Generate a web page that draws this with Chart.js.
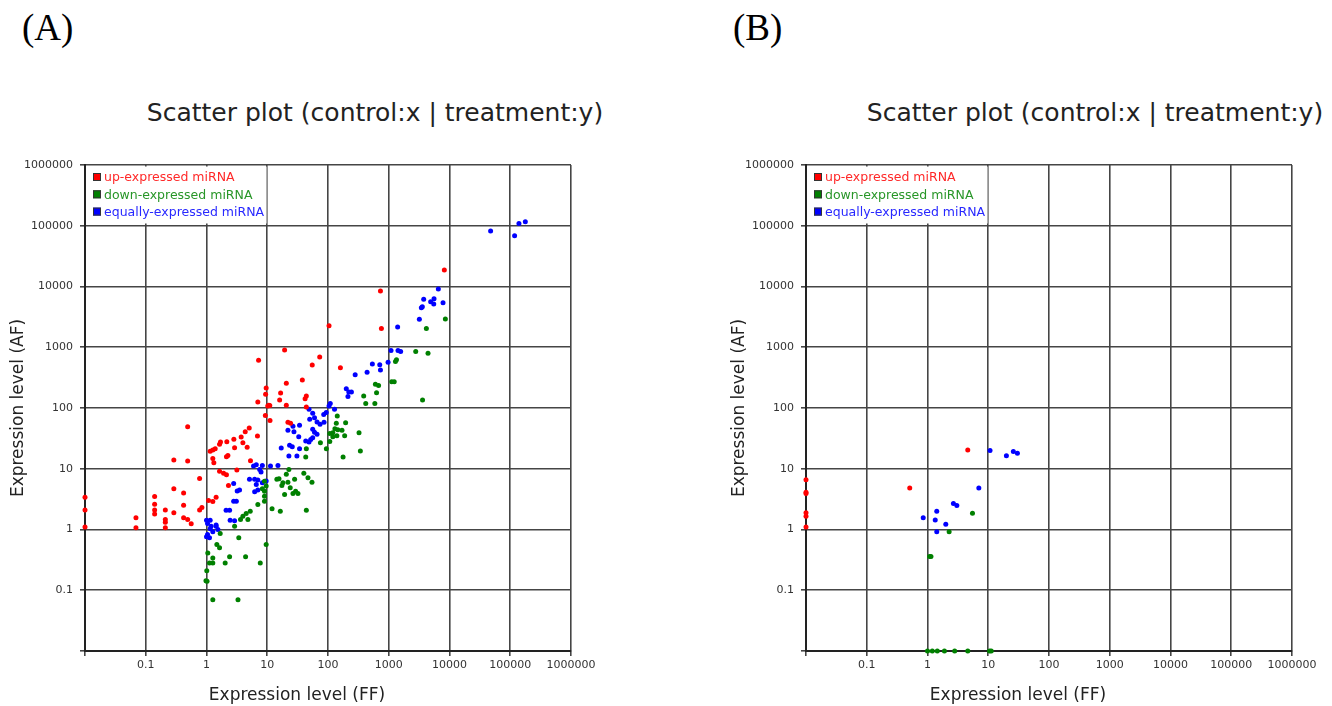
<!DOCTYPE html>
<html>
<head>
<meta charset="utf-8">
<script src="https://cdn.jsdelivr.net/npm/chart.js@4.4.0/dist/chart.umd.min.js"></script>
<style>
body { margin: 0; background: #fff; }
#wrap { position: relative; width: 1332px; height: 706px; overflow: hidden; }
canvas { position: absolute; top: 0; }
.panel { position: absolute; top: 8px; font-family: "Liberation Serif", serif; font-size: 37px; line-height: 40px; color: #000; }
.title { position: absolute; top: 99px; width: 600px; text-align: center; white-space: nowrap;
         font-family: "DejaVu Sans", sans-serif; font-size: 25px; line-height: 28px; color: #222; }
.xtitle { position: absolute; top: 684px; width: 300px; text-align: center; white-space: nowrap;
          font-family: "DejaVu Sans", sans-serif; font-size: 17px; line-height: 20px; color: #222; }
</style>
</head>
<body>
<div id="wrap">
  <div class="panel" style="left:22px">(A)</div>
  <div class="panel" style="left:733px">(B)</div>
  <div class="title" style="left:75px">Scatter plot (control:x | treatment:y)</div>
  <div class="title" style="left:795px">Scatter plot (control:x | treatment:y)</div>
  <canvas id="chartA" width="660" height="706" style="left:0"></canvas>
  <canvas id="chartB" width="611" height="706" style="left:721px"></canvas>
  <div class="xtitle" style="left:147px">Expression level (FF)</div>
  <div class="xtitle" style="left:868px">Expression level (FF)</div>
</div>
<script>
// decade ticks for both axes (0.01 is the unlabelled corner)
var decades = [0.01, 0.1, 1, 10, 100, 1000, 10000, 100000, 1000000];

var seriesNames = ['up-expressed miRNA', 'down-expressed miRNA', 'equally-expressed miRNA'];
var seriesColors = ['rgb(255, 0, 0)', 'rgb(0, 128, 0)', 'rgb(0, 0, 255)'];
var legendColors = ['rgb(255, 40, 40)', 'rgb(40, 150, 40)', 'rgb(40, 40, 255)'];

// panel A  [FF, AF]
var upA = [
  [104, 2250], [19.3, 900], [7.2, 610], [73, 690], [55, 510], [160, 460], [37.8, 290], [20.6, 255],
  [9.6, 214], [9.4, 168], [16.6, 177], [44, 158], [42, 142], [16, 135], [7.0, 126], [10.6, 111],
  [10.2, 108], [11, 110], [20.6, 111], [44, 104], [9.3, 75], [11.1, 62], [21.9, 58.5], [24.2, 56],
  [0.49, 49], [5.05, 46.8], [4.34, 40.7], [3.72, 33.3], [6.9, 34.5], [3.97, 26.8], [4.67, 22.5],
  [2.82, 30.5], [2.16, 27.9], [1.70, 27.5], [1.64, 25.2], [2.9, 22.2], [1.39, 21.3], [1.15, 19.5],
  [1.27, 20.3], [2.25, 16.6], [2.13, 15.8], [1.27, 14.8], [1.32, 12.6], [0.29, 13.9], [0.49, 13.4],
  [5.3, 13.5], [3.16, 9.5], [1.64, 9.1], [1.91, 8.4], [2.13, 8.0], [0.77, 6.9], [2.3, 5.3],
  [0.29, 4.7], [0.42, 4.0], [0.14, 3.5], [1.08, 3.0], [1.27, 2.9], [1.44, 3.4], [0.84, 2.3],
  [0.77, 2.1], [0.42, 2.5], [0.14, 2.6], [0.14, 2.1], [0.14, 1.8], [0.21, 2.1], [0.21, 1.46],
  [0.21, 1.32], [0.21, 1.07], [0.29, 1.88], [0.42, 1.56], [0.49, 1.46], [0.56, 1.24], [0.069, 1.56],
  [0.069, 1.07], [0.01, 3.4], [0.01, 2.1], [0.01, 1.1], [730, 8440], [757, 2030], [8220, 18700]
];
var downA = [
  [20.6, 8.1], [15.6, 6.85], [14.4, 6.7], [18.1, 5.9], [21.9, 6.0], [28.2, 6.7], [23.9, 4.86],
  [29.3, 4.28], [26.5, 3.9], [32, 3.9], [17.4, 5.3], [19.3, 3.78], [40, 8.4], [46.8, 7.1], [54.5, 6.0],
  [22.7, 9.75], [9.0, 6.25], [9.6, 5.18], [8.3, 4.68], [9.0, 4.28], [9.0, 3.54], [9.0, 2.93],
  [7.0, 2.58], [12.0, 2.19], [16.4, 2.0], [44, 2.08], [5.25, 2.0], [4.5, 1.84], [3.97, 1.66],
  [3.63, 1.46], [2.9, 1.13], [4.8, 1.46], [9.6, 0.566], [3.4, 0.73], [1.68, 0.86], [1.48, 0.566],
  [1.64, 0.50], [1.05, 0.41], [1.27, 0.34], [1.12, 0.28], [1.27, 0.28], [1.01, 0.21], [1.02, 0.14],
  [0.98, 0.144], [2.4, 0.355], [4.4, 0.355], [2.03, 0.28], [7.67, 0.28], [1.27, 0.07], [3.3, 0.07],
  [142, 74], [195, 57], [137, 56], [107, 38], [120, 39], [145, 44], [130, 45.7], [170, 43],
  [188, 35], [140, 35], [120, 33.5], [324, 39], [341, 19.6], [177, 15.6], [75, 26.8], [107, 28.1],
  [94, 21.3], [44, 21.3], [43, 15.6], [603, 245], [680, 235], [387, 158], [418, 119], [590, 119],
  [630, 179], [1120, 270], [1230, 270], [8550, 2920], [4160, 2030], [2780, 850], [4430, 796],
  [1340, 620], [1290, 580], [3600, 135]
];
var equalA = [
  [200, 208], [220, 184], [243, 184], [213, 154], [109, 119], [104, 108], [93.5, 84], [85, 78],
  [128, 95.6], [74, 54], [86, 58.5], [48.7, 95], [56, 82], [60, 69], [66, 59], [50, 65], [56, 44.6],
  [60, 40], [66, 36.8], [52, 30.4], [43, 28.5], [48.7, 27.5], [56, 32.5], [34, 52], [26.5, 50],
  [21.9, 43], [27.5, 40.7], [33, 33.7], [23.3, 24.3], [25.8, 23], [34, 21.4], [17, 22], [22.7, 16.2],
  [30.8, 16.2], [11.3, 11.1], [15, 11.3], [8.3, 11.3], [6.6, 11.6], [7.5, 9.7], [5.95, 11.1],
  [7.9, 8.8], [5.1, 6.7], [6.2, 6.7], [7.0, 6.5], [9.6, 6.3], [6.6, 5.5], [8.3, 5.9], [7.0, 4.45],
  [6.2, 4.2], [2.8, 5.7], [3.2, 4.3], [3.5, 4.45], [2.8, 2.93], [3.1, 2.93], [2.1, 2.08], [2.4, 2.08],
  [2.45, 1.42], [2.9, 1.39], [1.0, 1.42], [1.15, 1.42], [1.04, 1.26], [1.19, 1.13], [1.44, 1.13],
  [1.54, 1.0], [1.15, 1.03], [1.27, 0.915], [1.04, 0.83], [1.0, 0.76], [1.12, 0.73], [1.44, 1.19],
  [47500, 81700], [118000, 68500], [139000, 109000], [177000, 116000], [6550, 9100], [3760, 6150],
  [5560, 6310], [4900, 5630], [5500, 5150], [7820, 5420], [3570, 4650], [3440, 4490], [3190, 2890],
  [1400, 2160], [1090, 880], [1420, 880], [1570, 850], [975, 566], [711, 513], [730, 424],
  [537, 532], [440, 388], [280, 351]
];

// panel B
var upB = [[4.6, 20.4], [0.51, 4.84], [0.01, 6.6], [0.01, 3.9], [0.01, 4.1], [0.01, 1.88], [0.01, 1.66], [0.01, 1.1]];
var downB = [
  [5.5, 1.86], [2.27, 0.92], [1.08, 0.36], [1.14, 0.36], [1.0, 0.01], [1.2, 0.01], [1.45, 0.01],
  [1.9, 0.01], [2.8, 0.01], [4.6, 0.01], [10.5, 0.01], [11.2, 0.01]
];
var equalB = [
  [10.7, 19.9], [19.9, 16.3], [25.9, 19.2], [30.2, 18], [7.0, 4.84], [2.67, 2.67], [3.04, 2.48],
  [1.42, 2.0], [0.85, 1.56], [1.34, 1.44], [2.0, 1.22], [1.42, 0.92]
];

function toPoints(pairs){
    return pairs.map(function(p){ return {x: p[0], y: p[1]}; });
}

// legend drawn inside the top-left corner of the plot
var insideLegend = {
    id: 'insideLegend',
    afterDatasetsDraw: function(chart){
        var ctx = chart.ctx, area = chart.chartArea;
        ctx.save();
        ctx.font = '12.5px "DejaVu Sans"';
        var w = 0;
        chart.data.datasets.forEach(function(ds){ w = Math.max(w, ctx.measureText(ds.label).width); });
        ctx.fillStyle = '#fff';
        ctx.fillRect(area.left + 1.5, area.top + 1.5, w + 20, 57);
        chart.data.datasets.forEach(function(ds, i){
            var y = area.top + 12 + i * 17.3;
            ctx.fillStyle = ds.backgroundColor;
            ctx.fillRect(area.left + 8, y - 4, 8, 8);
            ctx.strokeStyle = '#333';
            ctx.lineWidth = 1;
            ctx.strokeRect(area.left + 8.5, y - 3.5, 7, 7);
            ctx.fillStyle = legendColors[i];
            ctx.textBaseline = 'middle';
            ctx.fillText(ds.label, area.left + 19, y + 1);
        });
        ctx.restore();
    }
};

function axis(title, isX){
    return {
        type: 'logarithmic',
        min: 0.01,
        max: 1000000,
        afterBuildTicks: function(s){ s.ticks = decades.map(function(v){ return {value: v}; }); },
        afterFit: function(s){ if (isX) s.height = 55; else s.width = 85; },
        ticks: {
            callback: function(v){ return v < 0.05 ? '' : String(v); },
            font: {family: 'DejaVu Sans', size: 11},
            color: '#333',
            padding: isX ? 3 : 7,
            maxRotation: 0,
            autoSkip: false
        },
        grid: {color: '#454545', lineWidth: 1.6, tickLength: 5},
        border: {color: '#222', width: 2},
        title: {
            display: !isX,
            text: title,
            font: {family: 'DejaVu Sans', size: 17},
            color: '#222',
            padding: {top: 8, bottom: 0}
        }
    };
}

function makeChart(id, up, down, equal, padRight){
    var ctx = document.getElementById(id).getContext('2d');
    var sets = [up, down, equal].map(function(d, i){
        return {
            label: seriesNames[i],
            data: toPoints(d),
            backgroundColor: seriesColors[i],
            borderWidth: 0,
            pointRadius: 2.5,
            clip: false
        };
    });
    return new Chart(ctx, {
        type: 'scatter',
        data: {datasets: sets},
        options: {
            responsive: false,
            animation: false,
            devicePixelRatio: 1,
            layout: {padding: {left: 0, top: 165, right: padRight, bottom: 0}},
            plugins: {legend: {display: false}, tooltip: {enabled: false}},
            scales: {
                x: axis('Expression level (FF)', true),
                y: axis('Expression level (AF)', false)
            }
        },
        plugins: [insideLegend]
    });
}

makeChart('chartA', upA, downA, equalA, 89);
makeChart('chartB', upB, downB, equalB, 40);
</script>
</body>
</html>
